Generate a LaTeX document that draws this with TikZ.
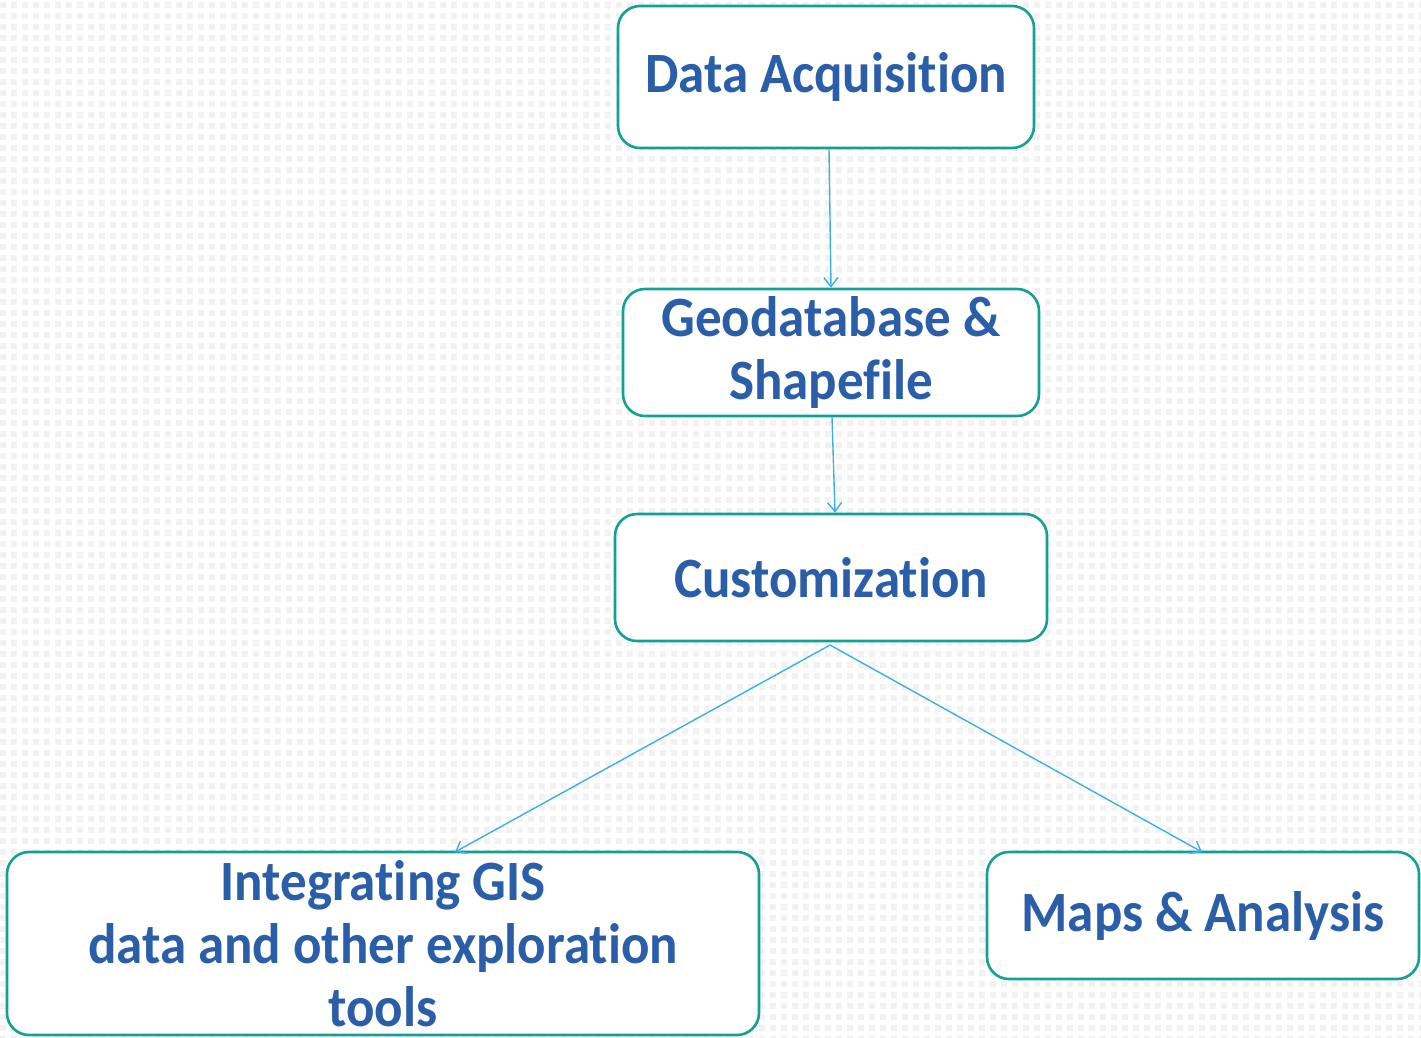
\documentclass[tikz,border=0pt]{standalone}
\usepackage{fontspec}
\setmainfont{Carlito}[Ligatures=NoCommon, BoldFeatures={FakeStretch=0.93}]
\usetikzlibrary{arrows.meta}
\definecolor{boxline}{HTML}{12A097}
\definecolor{txtblue}{HTML}{2B5EA9}
\definecolor{arrblue}{HTML}{3AAFEA}
\tikzset{
  flowbox/.style={draw=boxline, line width=2.6pt, fill=white, rounded corners=22pt,
    text=txtblue, font=\fontsize{57}{63}\selectfont\bfseries, align=center, inner sep=0pt},
  flowarrow/.style={draw=arrblue, line width=1.4pt, -{Straight Barb[length=9pt,width=14pt,line width=1.4pt]}},
}
\begin{document}
\begin{tikzpicture}[x=1pt,y=-1pt]
\useasboundingbox (0,0) rectangle (1421,1037);
\fill[white] (0,0) rectangle (1421,1037);
% dotted background
\foreach \r in {0,...,94}{
  \draw[gray!10, line width=6pt, dash pattern=on 6pt off 5pt] (0,{\r*11+5}) -- (1421,{\r*11+5});
}
\node[flowbox, minimum width=416pt, minimum height=142pt] (acq) at (826,77) {Data Acquisition};
\node[flowbox, minimum width=416pt, minimum height=127pt] (geo) at (831,352.5) {Geodatabase \&\\Shapefile};
\node[flowbox, minimum width=432pt, minimum height=127pt] (cust) at (831,577.5) {Customization};
\node[flowbox, minimum width=752pt, minimum height=183pt] (integ) at (383,943.5) {Integrating GIS\\data and other exploration\\tools};
\node[flowbox, minimum width=432pt, minimum height=127pt] (maps) at (1203,915.5) {Maps \& Analysis};
\coordinate (split) at (830,645);
\draw[flowarrow] ([xshift=3pt]acq.south) -- (geo.north);
\draw[flowarrow] ([xshift=1pt]geo.south) -- ([xshift=4pt]cust.north);
\draw[flowarrow] (split) -- (455,852);
\draw[flowarrow] (split) -- (1202,852);
\end{tikzpicture}
\end{document}
